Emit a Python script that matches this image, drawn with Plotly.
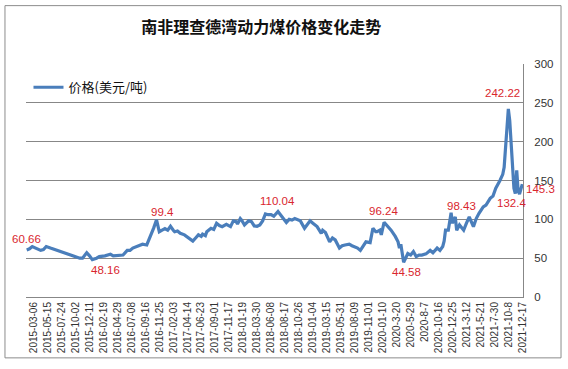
import plotly.graph_objects as go

# week number counted from the first observation (weekly data)
week_no = [0, 2, 4, 7, 10, 12, 14, 17, 20, 24, 28, 31, 35, 38, 40, 43, 45, 47, 50, 52,
           56, 60, 62, 64, 67, 69, 72, 74, 76, 79, 81, 83, 86, 87, 89, 91, 93, 95, 97, 99,
           101, 103, 105, 106, 108, 110, 113, 116, 119, 121, 123, 125, 126, 128, 129, 132, 134, 136, 138, 140,
           143, 146, 148, 150, 151, 153, 154, 156, 159, 161, 163, 165, 167, 169, 171, 173, 175, 177, 180, 183,
           186, 188, 190, 192, 194, 196, 199, 201, 203, 205, 208, 211, 212, 214, 217, 219, 221, 224, 226, 228,
           231, 233, 235, 237, 239, 241, 243, 246, 248, 250, 251, 253, 254, 256, 259, 261, 264, 266, 267, 268,
           270, 273, 275, 277, 279, 281, 283, 286, 289, 291, 294, 296, 298, 299, 300, 302, 304, 305, 307, 308,
           310, 313, 315, 317, 320, 322, 324, 327, 329, 332, 334, 336, 339, 341, 342, 344, 345, 346, 348, 349,
           350, 351, 352, 353, 355]
price = [60.66, 62, 65, 63, 60, 61, 65, 63, 61, 58.5, 56, 54, 52, 50, 50, 57, 53, 48.16, 50, 52,
         53, 55, 53, 53, 54, 54, 60, 60, 63, 65, 67, 68, 67, 71, 80, 89, 99.4, 84, 86, 88,
         86, 91, 86, 84, 85, 82, 80, 76, 72, 76, 80, 78, 81, 79, 84, 88.5, 87, 95, 92, 90.6,
         93.6, 90.6, 98, 97, 94, 101, 99, 92.7, 98, 97, 91.5, 91, 92.7, 98, 107, 106, 106, 104, 110.04, 103,
         96, 100, 99, 101, 99, 98, 88.5, 93, 98, 95, 90.6, 82, 86, 83, 71, 76, 73.5, 63, 66, 67,
         68, 66, 65, 63, 60, 65, 71, 70, 88.5, 84, 84, 86, 80, 96.24, 90.6, 86, 78, 71, 63, 68,
         44.58, 56, 54, 58.5, 52, 54, 54, 55.5, 60, 57, 63, 60, 65, 72, 86, 86, 108.5, 95, 103, 86,
         92.7, 86, 95, 103, 90.6, 101, 107.7, 116, 118.4, 127, 130, 140, 150, 158, 167, 210, 242.22, 227, 175, 140,
         133, 163, 137, 132.4, 145.3]

tick_week = [5 + 10 * k for k in range(36)]
tick_text = ["2015-03-06", "2015-05-15", "2015-07-24", "2015-10-02", "2015-12-11", "2016-02-19",
             "2016-04-29", "2016-07-08", "2016-09-16", "2016-11-25", "2017-02-03", "2017-04-14",
             "2017-06-23", "2017-09-01", "2017-11-17", "2018-01-19", "2018-03-30", "2018-06-08",
             "2018-08-17", "2018-10-26", "2019-01-04", "2019-03-15", "2019-05-31", "2019-08-09",
             "2019-11-01", "2020-01-10", "2020-3-20", "2020-5-29", "2020-8-7", "2020-10-16",
             "2020-12-25", "2021-3-12", "2021-5-21", "2021-7-30", "2021-10-8", "2021-12-17"]

# data labels: week of the labelled point, shown text, pixel offsets
label_week = [0, 47, 93, 180, 256, 270, 304, 345, 353, 355]
label_text = ["60.66", "48.16", "99.4", "110.04", "96.24", "44.58", "98.43", "242.22", "132.4", "145.3"]
label_dx = [0, 13, 6, 0, -1, 3, 10, -6, -8, 18]
label_dy = [11, -10, 8, 11, 11, -10, 7, 16, -9, -5]

fig = go.Figure()
fig.add_trace(go.Scatter(x=week_no, y=price, mode="lines", name="价格(美元/吨)",
                         line=dict(color="#4a7ebb", width=3.2)))

for w, t, dx, dy in zip(label_week, label_text, label_dx, label_dy):
    yv = price[week_no.index(w)]
    fig.add_annotation(x=w, y=yv, text=t, showarrow=False, xref="x", yref="y",
                       xshift=dx, yshift=dy, xanchor="center", yanchor="middle",
                       font=dict(family="Liberation Sans, Arial", size=11.5, color="#d9262e"))

fig.add_shape(type="rect", xref="paper", yref="paper", x0=-0.0423, x1=1.0765, y0=-0.2612, y1=1.2505,
              line=dict(color="#8c8c8c", width=1), layer="below")

fig.update_layout(
    width=568, height=369,
    margin=dict(l=26, r=45, t=63.5, b=72),
    paper_bgcolor="white", plot_bgcolor="white",
    title=dict(text="<b>南非理查德湾动力煤价格变化走势</b>", x=0.46, xanchor="center",
               y=0.925, yanchor="middle",
               font=dict(family="Noto Sans CJK SC", size=16, color="#111111")),
    showlegend=True,
    legend=dict(x=0.005, y=0.9, xanchor="left", yanchor="middle", bgcolor="rgba(0,0,0,0)",
                font=dict(family="Noto Sans CJK SC", size=13, color="#111111"),
                itemwidth=30),
    font=dict(family="Liberation Sans, Arial", color="#333333"),
)
fig.update_xaxes(range=[-0.5, 355.5], tickmode="array", tickvals=tick_week, ticktext=tick_text,
                 tickangle=-90, showgrid=False, showline=True, linecolor="#878787", linewidth=1,
                 ticks="", tickfont=dict(size=10, color="#333333"), zeroline=False, fixedrange=True)
fig.update_yaxes(range=[0, 300], dtick=50, side="right", showgrid=True, gridcolor="#878787",
                 gridwidth=1, showline=True, linecolor="#878787", linewidth=1, zeroline=False,
                 ticks="", ticklabelstandoff=8, tickfont=dict(size=11.5, color="#333333"))

fig.write_html("out.html", config={"displayModeBar": False},
               post_script="document.body.style.margin='0';")
